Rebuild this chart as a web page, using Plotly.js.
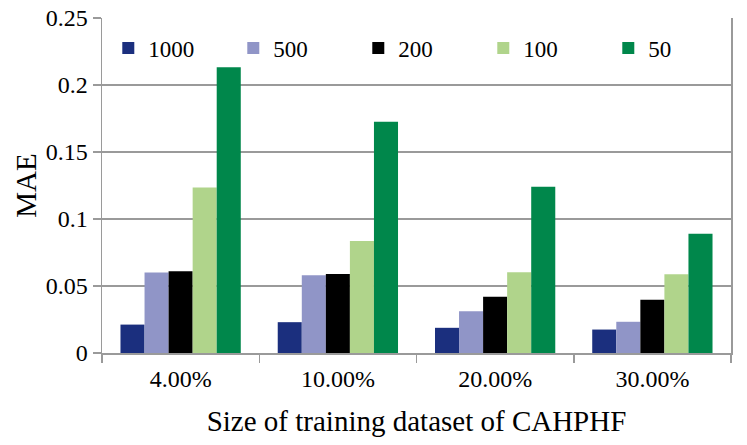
<!DOCTYPE html>
<html>
<head>
<meta charset="utf-8">
<script src="https://cdn.plot.ly/plotly-3.0.1.min.js"></script>
<style>
  html, body { margin: 0; padding: 0; background: #fff; }
  #chart { width: 747px; height: 445px; }
</style>
</head>
<body>
<div id="chart"></div>
<script>
// training set sizes on the x axis
const sizes = ['4.00%', '10.00%', '20.00%', '30.00%'];

// MAE per series (legend label = series name)
const mae1000 = [0.0212, 0.0230, 0.0188, 0.0175];
const mae500  = [0.0600, 0.0580, 0.0312, 0.0233];
const mae200  = [0.0610, 0.0590, 0.0420, 0.0398];
const mae100  = [0.1235, 0.0835, 0.0602, 0.0587];
const mae50   = [0.2133, 0.1725, 0.1240, 0.0890];

const seriesNames = ['1000', '500', '200', '100', '50'];
const seriesValues = [mae1000, mae500, mae200, mae100, mae50];
const seriesColors = ['#1b2f7e', '#9095c7', '#000000', '#b0d48b', '#00874b'];

const font = '"Liberation Serif", serif';
const grey = '#9a9a9a';

const traces = seriesNames.map(function (name, i) {
  return {
    type: 'bar',
    name: name,
    x: sizes,
    y: seriesValues[i],
    marker: { color: seriesColors[i], line: { width: 0 } },
    hoverinfo: 'x+y+name'
  };
});

const layout = {
  width: 747,
  height: 445,
  margin: { l: 102, r: 16, t: 18, b: 92 },
  paper_bgcolor: '#fff',
  plot_bgcolor: '#fff',
  font: { family: font, size: 24, color: '#000' },
  barmode: 'group',
  bargap: 0.235,
  bargroupgap: 0,
  showlegend: true,
  legend: {
    orientation: 'h',
    x: 0.01,
    xanchor: 'left',
    y: 0.91,
    yanchor: 'middle',
    bgcolor: 'rgba(0,0,0,0)',
    font: { family: font, size: 23, color: '#000' },
    entrywidth: 80,
    entrywidthmode: 'pixels',
    traceorder: 'normal'
  },
  xaxis: {
    type: 'category',
    showgrid: false,
    showline: true,
    linecolor: grey,
    linewidth: 1.5,
    ticks: 'outside',
    tickson: 'boundaries',
    ticklen: 8,
    tickcolor: grey,
    tickwidth: 1.5,
    ticklabelstandoff: 4,
    tickfont: { family: font, size: 24 },
    title: { text: 'Size of training dataset of CAHPHF', font: { family: font, size: 29 }, standoff: 19 },
    zeroline: false
  },
  yaxis: {
    range: [0, 0.25],
    dtick: 0.05,
    tick0: 0,
    showgrid: true,
    gridcolor: grey,
    gridwidth: 1.5,
    showline: true,
    mirror: true,
    linecolor: grey,
    linewidth: 1.5,
    ticks: 'outside',
    ticklen: 8,
    tickcolor: grey,
    tickwidth: 1.5,
    tickfont: { family: font, size: 24 },
    title: { text: 'MAE', font: { family: font, size: 29 }, standoff: 0 },
    zeroline: false
  }
};

Plotly.newPlot('chart', traces, layout, { displayModeBar: false, staticPlot: true });
</script>
</body>
</html>
